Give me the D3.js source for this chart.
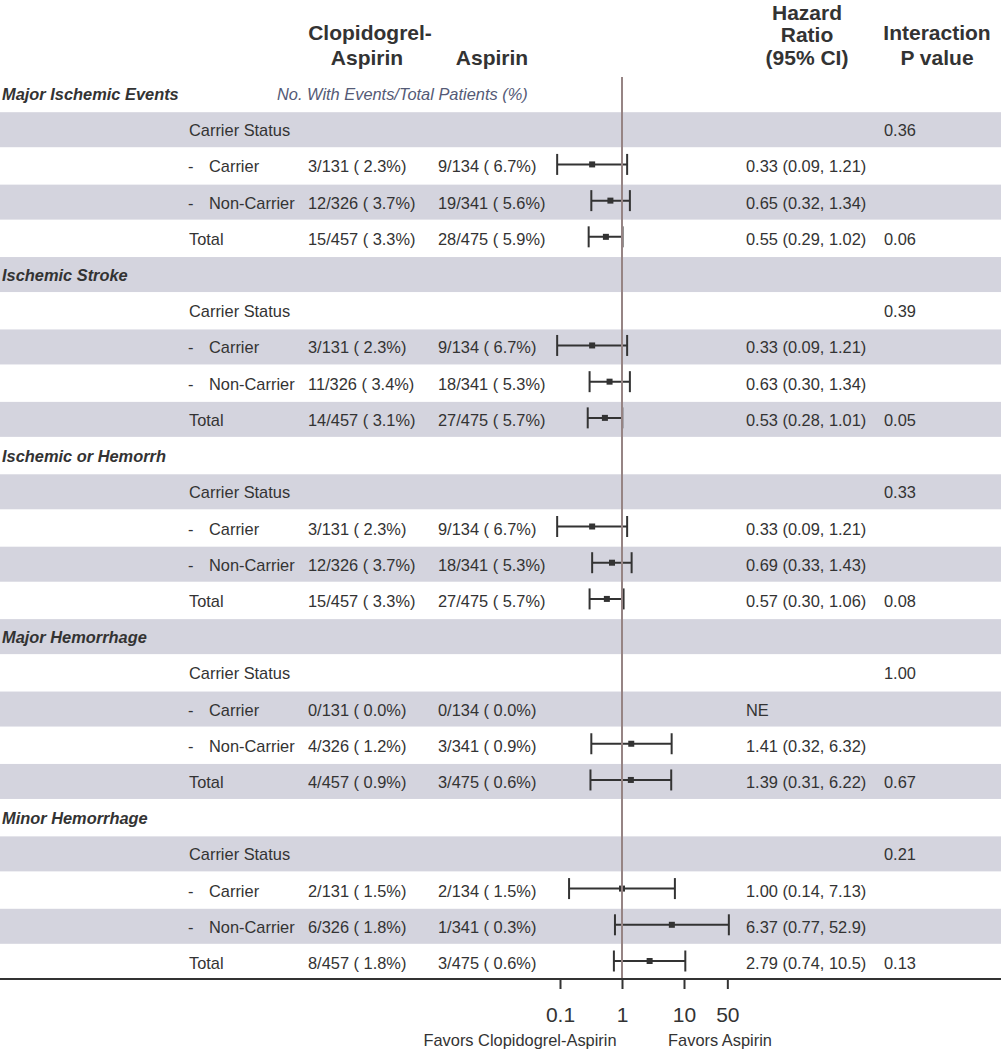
<!DOCTYPE html>
<html>
<head>
<meta charset="utf-8">
<script src="https://cdn.jsdelivr.net/npm/d3@7"></script>
<style>
  body { margin: 0; background: #fff; }
  svg text { font-family: "Liberation Sans", Arial, sans-serif; fill: #333; }
</style>
</head>
<body>
<svg id="forest" width="1001" height="1050"></svg>
<script>
// outcomes and subgroup rows
var outcomes = ["Major Ischemic Events", "Ischemic Stroke", "Ischemic or Hemorrh", "Major Hemorrhage", "Minor Hemorrhage"];
var subgroups = ["Carrier", "Non-Carrier", "Total"];

// events per subgroup (Carrier, Non-Carrier, Total)
var clopEvents = [[3, 12, 15], [3, 11, 14], [3, 12, 15], [0, 4, 4], [2, 6, 8]];
var clopTotals = [131, 326, 457];
var aspEvents = [[9, 19, 28], [9, 18, 27], [9, 18, 27], [0, 3, 3], [2, 1, 3]];
var aspTotals = [134, 341, 475];

// hazard ratios with 95% CI, null = not estimable
var hr = [[0.33, 0.65, 0.55], [0.33, 0.63, 0.53], [0.33, 0.69, 0.57], [null, 1.41, 1.39], [1.00, 6.37, 2.79]];
var hrLow = [[0.09, 0.32, 0.29], [0.09, 0.30, 0.28], [0.09, 0.33, 0.30], [null, 0.32, 0.31], [0.14, 0.77, 0.74]];
var hrHigh = [[1.21, 1.34, 1.02], [1.21, 1.34, 1.01], [1.21, 1.43, 1.06], [null, 6.32, 6.22], [7.13, 52.9, 10.5]];

// interaction p (carrier status row) and total p
var pInteraction = [0.36, 0.39, 0.33, 1.00, 0.21];
var pTotal = [0.06, 0.05, 0.08, 0.67, 0.13];

var tickValues = [0.1, 1, 10, 50];

const svg = d3.select("#forest"),
    width = +svg.attr("width"),
    axisY = 979;

// build the rows: heading, carrier status, carrier, non-carrier, total
var rows = [];
outcomes.forEach(function (o, i) {
    rows.push({type: "head", label: o, g: i});
    rows.push({type: "status", label: "Carrier Status", g: i, p: pInteraction[i]});
    subgroups.forEach(function (s, j) {
        rows.push({
            type: j < 2 ? "sub" : "total", label: s, g: i, j: j,
            c1: clopEvents[i][j], n1: clopTotals[j],
            c2: aspEvents[i][j], n2: aspTotals[j],
            hr: hr[i][j], lo: hrLow[i][j], hi: hrHigh[i][j],
            p: j == 2 ? pTotal[i] : null
        });
    });
});

const y = d3.scaleLinear().domain([0, rows.length - 1]).range([94, 963]);
const x = d3.scaleLog().domain([0.1, 10]).range([560, 684]);

function fmtN(c, n) {
    return c + "/" + n + " ( " + (100 * c / n).toFixed(1) + "%)";
}
function fmtHR(v) {
    return v >= 10 ? v.toFixed(1) : v.toFixed(2);
}

// shaded bands on odd rows
svg.append("g").selectAll("rect")
    .data(rows.filter(function (d, i) { return i % 2 == 1; }))
    .enter().append("rect")
    .attr("x", 0)
    .attr("width", width)
    .attr("y", function (d) { return y(rows.indexOf(d)) - 18; })
    .attr("height", 35)
    .attr("fill", "#d4d4de");

// header
const hdr = svg.append("g").style("font-weight", "bold").style("font-size", "21px").attr("text-anchor", "middle");
hdr.append("text").attr("x", 370).attr("y", 40).text("Clopidogrel-");
hdr.append("text").attr("x", 367).attr("y", 65).text("Aspirin");
hdr.append("text").attr("x", 492).attr("y", 65).text("Aspirin");
hdr.append("text").attr("x", 807).attr("y", 20).text("Hazard");
hdr.append("text").attr("x", 807).attr("y", 42).text("Ratio");
hdr.append("text").attr("x", 807).attr("y", 65).text("(95% CI)");
hdr.append("text").attr("x", 937).attr("y", 40).text("Interaction");
hdr.append("text").attr("x", 937).attr("y", 65).text("P value");

svg.append("text")
    .attr("x", 277).attr("y", 100)
    .style("font-style", "italic").style("font-size", "16.4px")
    .style("fill", "#545a76")
    .text("No. With Events/Total Patients (%)");

// row texts
const rg = svg.append("g").style("font-size", "16.4px");
rows.forEach(function (d, i) {
    var ty = y(i) + 6;
    if (d.type == "head") {
        rg.append("text").attr("x", 2).attr("y", ty)
            .style("font-weight", "bold").style("font-style", "italic")
            .text(d.label);
        return;
    }
    if (d.type == "sub") {
        rg.append("text").attr("x", 188).attr("y", ty).text("-");
        rg.append("text").attr("x", 209).attr("y", ty).text(d.label);
    } else {
        rg.append("text").attr("x", 189).attr("y", ty).text(d.label);
    }
    if (d.type != "status") {
        rg.append("text").attr("x", 308).attr("y", ty).text(fmtN(d.c1, d.n1));
        rg.append("text").attr("x", 438).attr("y", ty).text(fmtN(d.c2, d.n2));
        rg.append("text").attr("x", 746).attr("y", ty)
            .text(d.hr == null ? "NE" : fmtHR(d.hr) + " (" + fmtHR(d.lo) + ", " + fmtHR(d.hi) + ")");
    }
    if (d.p != null) {
        rg.append("text").attr("x", 884).attr("y", ty).text(d.p.toFixed(2));
    }
});

// confidence intervals
const ci = svg.append("g").attr("stroke", "#333").attr("stroke-width", 2);
rows.forEach(function (d, i) {
    if (d.hr == null) return;
    var cy = y(i) - 2;
    ci.append("line").attr("x1", x(d.lo)).attr("x2", x(d.hi)).attr("y1", cy).attr("y2", cy);
    ci.append("line").attr("x1", x(d.lo)).attr("x2", x(d.lo)).attr("y1", cy - 10.5).attr("y2", cy + 10.5);
    ci.append("line").attr("x1", x(d.hi)).attr("x2", x(d.hi)).attr("y1", cy - 10.5).attr("y2", cy + 10.5);
    ci.append("rect").attr("x", x(d.hr) - 3).attr("y", cy - 3)
        .attr("width", 6).attr("height", 6).attr("fill", "#333").attr("stroke", "none");
});

// reference line at HR = 1
svg.append("line")
    .attr("x1", x(1)).attr("x2", x(1))
    .attr("y1", 77).attr("y2", axisY)
    .attr("stroke", "#968484").attr("stroke-width", 2);

// x axis
const xAxis = svg.append("g")
    .attr("transform", "translate(0," + axisY + ")")
    .call(d3.axisBottom(x).tickValues(tickValues).tickFormat(function (d) { return d; })
        .tickSize(10).tickPadding(18));
xAxis.select(".domain").remove();
xAxis.selectAll(".tick line").attr("stroke", "#333").attr("stroke-width", 2);
xAxis.selectAll(".tick text").style("font-size", "21px").style("font-family", "Liberation Sans, Arial, sans-serif").attr("fill", "#333");

svg.append("line")
    .attr("x1", 0).attr("x2", width)
    .attr("y1", axisY).attr("y2", axisY)
    .attr("stroke", "#333").attr("stroke-width", 2);

svg.append("text").attr("x", 520).attr("y", 1046).attr("text-anchor", "middle")
    .style("font-size", "16.4px").text("Favors Clopidogrel-Aspirin");
svg.append("text").attr("x", 720).attr("y", 1046).attr("text-anchor", "middle")
    .style("font-size", "16.4px").text("Favors Aspirin");
</script>
</body>
</html>
